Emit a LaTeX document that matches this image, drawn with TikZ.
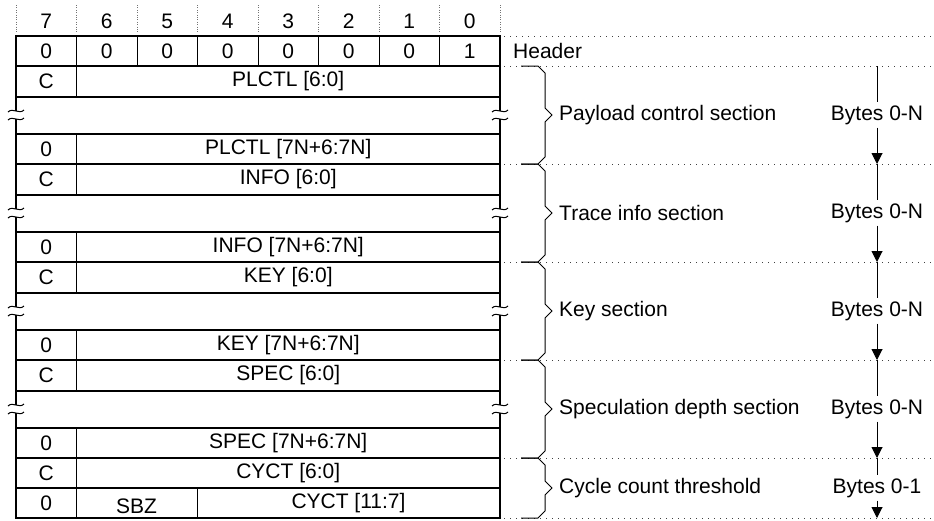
\documentclass[tikz,border=0pt]{standalone}
\usepackage{fontspec}
\setmainfont{Liberation Sans}
\usetikzlibrary{arrows.meta}
\begin{document}
\begin{tikzpicture}[x=1pt,y=-1pt,
  font=\fontsize{21}{25}\selectfont,
  rowline/.style={line width=2pt},
  colline/.style={line width=1pt},
  border/.style={line width=2pt},
  bitdots/.style={black!55, line width=0.8pt, dash pattern=on 0.8pt off 1.6pt},
  guide/.style={black!75, line width=1pt, dash pattern=on 1pt off 5pt},
  brc/.style={line width=1pt},
  breakmark/.style={line width=1pt},
  cell/.style={inner sep=0pt, anchor=center},
  sectlabel/.style={anchor=west, inner sep=0pt},
  bytelabel/.style={inner sep=3pt},
  byteline/.style={line width=1pt},
  bytearrow/.style={line width=1pt, -{Triangle[width=11pt,length=11pt]}}]
\useasboundingbox (0,0) rectangle (934,520);

% bit numbers and dotted column guides
\foreach \i in {0,...,8} {
  \draw[bitdots] ({16+60.5*\i},5) -- ({16+60.5*\i},33);
}
\foreach \i in {0,...,7} {
  \pgfmathtruncatemacro{\b}{7-\i}
  \node[cell] (bit\b) at ({46.25+60.5*\i},21) {\b};
}

% header row
\draw[rowline] (16,36) -- (500,36);
\draw[rowline] (16,66) -- (500,66);
\foreach \i in {1,...,7} {
  \draw[colline] ({16+60.5*\i},36) -- ({16+60.5*\i},66);
}
\foreach \i/\v in {0/0,1/0,2/0,3/0,4/0,5/0,6/0,7/1} {
  \node[cell] (h\i) at ({46.25+60.5*\i},51) {\v};
}
\draw[border] (16,35) -- (16,67);
\draw[border] (500,35) -- (500,67);

% repeated sections
\foreach \s/\nm [count=\k] in {66/PLCTL,164/INFO,262/KEY,360/SPEC} {
  \draw[rowline] (16,\s+31) -- (500,\s+31);
  \draw[rowline] (16,\s+68) -- (500,\s+68);
  \draw[rowline] (16,\s+98) -- (500,\s+98);
  \draw[colline] (76.5,\s) -- (76.5,\s+31);
  \draw[colline] (76.5,\s+68) -- (76.5,\s+98);
  \node[cell] (c\k) at (46.25,\s+15.5) {C};
  \node[cell] (f\k) at (288.25,\s+15.5) {\nm{} [6:0]};
  \node[cell] (z\k) at (46.25,\s+83) {0};
  \node[cell] (g\k) at (288.25,\s+83) {\nm{} [7N+6:7N]};
  \foreach \x in {16,500} {
    \draw[border] (\x,\s) -- (\x,\s+45);
    \draw[border] (\x,\s+53) -- (\x,\s+98);
    \draw[breakmark] (\x-8,\s+46) .. controls (\x-3,\s+41) and (\x+3,\s+49) .. (\x+8,\s+44);
    \draw[breakmark] (\x-8,\s+54) .. controls (\x-3,\s+49) and (\x+3,\s+57) .. (\x+8,\s+52);
  }
}

% cycle count rows
\draw[rowline] (16,488) -- (500,488);
\draw[rowline] (16,518) -- (500,518);
\draw[colline] (76.5,458) -- (76.5,518);
\draw[colline] (197,488) -- (197,518);
\draw[border] (16,457) -- (16,519);
\draw[border] (500,457) -- (500,519);
\node[cell] (c5) at (46.25,473) {C};
\node[cell] (f5) at (288.25,473) {CYCT [6:0]};
\node[cell] (z5) at (46.25,503) {0};
\node[cell] (sbz) at (136.5,506) {SBZ};
\node[cell] (g5) at (348.5,503) {CYCT [11:7]};

% right-hand guides
\foreach \y in {36,66,164,262,360,458,518} {
  \draw[guide] (504,\y) -- (934,\y);
}
\node[sectlabel] (hdr) at (513,51) {Header};

% braces, section labels, byte ranges
\foreach \t/\bt/\lab/\byt [count=\k] in {66/164/Payload control section/Bytes 0-N,
    164/262/Trace info section/Bytes 0-N,
    262/360/Key section/Bytes 0-N,
    360/458/Speculation depth section/Bytes 0-N,
    458/518/Cycle count threshold/Bytes 0-1} {
  \pgfmathsetmacro{\m}{(\t+\bt)/2}
  \draw[brc] (521,\t) -- (538,\t) -- (545,\t+7) -- (545,\m-7) -- (552,\m)
     -- (545,\m+7) -- (545,\bt-7) -- (538,\bt) -- (521,\bt);
  \node[sectlabel] (sec\k) at (559,\m) {\lab};
  \node[bytelabel] (by\k) at (877,\m) {\byt};
  \coordinate (bt\k) at (877,\t);
  \coordinate (bb\k) at (877,\bt);
  \draw[byteline] (bt\k) -- (by\k.north);
  \draw[bytearrow] (by\k.south) -- (bb\k);
}
\end{tikzpicture}
\end{document}
